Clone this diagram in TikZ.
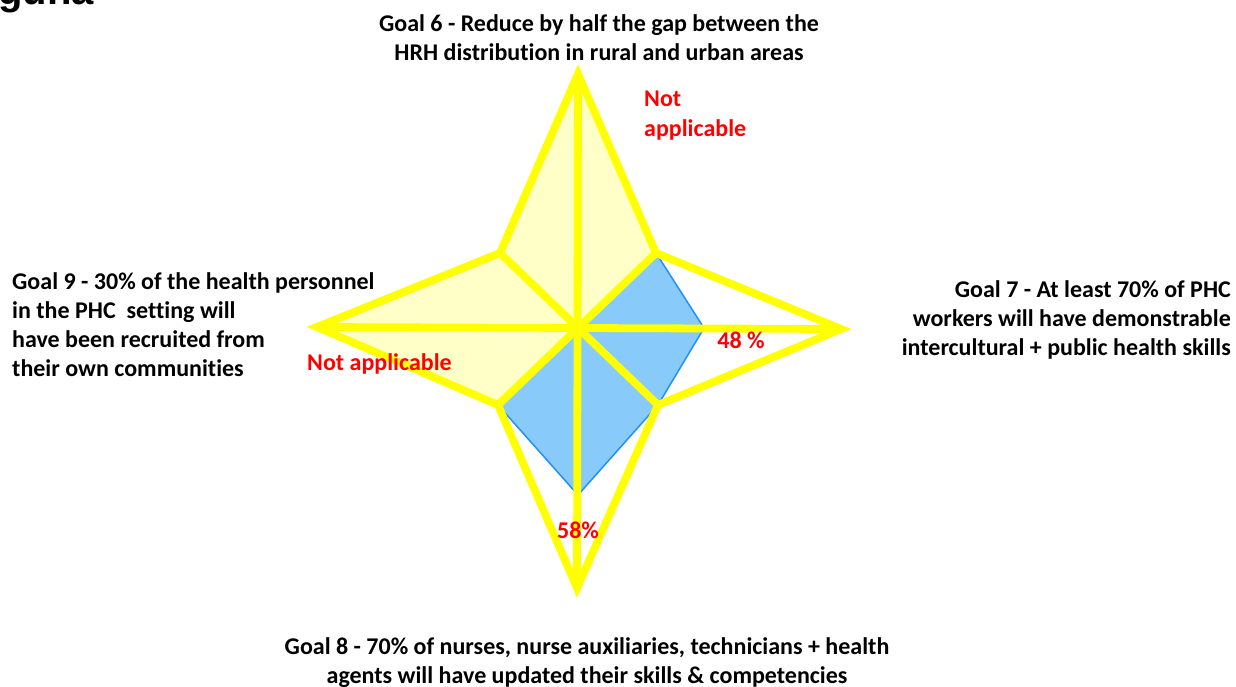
\documentclass[tikz,border=0pt]{standalone}
\usepackage{fontspec}
\setmainfont{Carlito}[Ligatures={NoCommon,NoRequired,NoContextual}]
\newfontfamily\arialfont{Liberation Sans}
\definecolor{starYellow}{HTML}{FFFF00}
\definecolor{paleYellow}{HTML}{FFFFC8}
\definecolor{skyFill}{HTML}{88CBFB}
\definecolor{skyLine}{HTML}{1E90FF}
\definecolor{labelRed}{HTML}{FF0000}
\tikzset{
  spoke/.style={draw=starYellow, line width=7.8pt},
  goaltext/.style={font=\fontsize{24}{29.3}\selectfont\bfseries, inner sep=0pt, text=black},
  valtext/.style={font=\fontsize{24}{29.3}\selectfont\bfseries, inner sep=0pt, text=labelRed},
}
\begin{document}
\begin{tikzpicture}[x=1pt,y=-1pt]
\useasboundingbox (0,0) rectangle (1236,687);
\clip (0,0) rectangle (1236,687);
% star geometry
\coordinate (C) at (578,328);
\coordinate (T) at (578,74);
\coordinate (R) at (841,329);
\coordinate (B) at (577,588);
\coordinate (L) at (317,327);
\coordinate (UR) at (656,253);
\coordinate (LR) at (658,405);
\coordinate (LL) at (498,405);
\coordinate (UL) at (500,253);
\coordinate (P7) at (704,328);
\coordinate (P8) at (578,495);
% fills
\fill[paleYellow] (UR) -- (T) -- (UL) -- (L) -- (LL) -- (C) -- cycle;
\filldraw[fill=skyFill, draw=skyLine, line width=1.5pt, line join=round] (C) -- (UR) -- (P7) -- (LR) -- (P8) -- (LL) -- cycle;
% spokes
\draw[spoke] (T) -- (B);
\draw[spoke] (L) -- (R);
\draw[spoke] (C) -- (UR);
\draw[spoke] (C) -- (LR);
\draw[spoke] (C) -- (LL);
\draw[spoke] (C) -- (UL);
% outline
\draw[spoke] (T) -- (UR) -- (R) -- (LR) -- (B) -- (LL) -- (L) -- (UL) -- cycle;
% title fragment
\node[anchor=base west, inner sep=0pt, font=\arialfont\bfseries\fontsize{40}{48}\selectfont] (ttl) at (-2,5) {guna};
% goals
\node[goaltext, anchor=north, align=center] (g6) at (599,14.5) {Goal 6 - Reduce by half the gap between the\\HRH distribution in rural and urban areas};
\node[goaltext, anchor=north west, align=left] (g9) at (12,272) {Goal 9 - 30\% of the health personnel\\in the PHC\ \ setting will\\have been recruited from\\their own communities};
\node[goaltext, anchor=north east, align=right] (g7) at (1231,280) {Goal 7 - At least 70\% of PHC\\workers will have demonstrable\\intercultural + public health skills};
\node[goaltext, anchor=north, align=center] (g8) at (587,637) {Goal 8 - 70\% of nurses, nurse auxiliaries, technicians + health\\agents will have updated their skills \& competencies};
% values
\node[valtext, anchor=north west, align=left] (v6) at (644,91) {Not\\applicable};
\node[valtext, anchor=base west] (v9) at (307,370) {Not applicable};
\node[valtext, anchor=base] (v7) at (741,348) {48 \%};
\node[valtext, anchor=base] (v8) at (578,538) {58\%};
\end{tikzpicture}
\end{document}
